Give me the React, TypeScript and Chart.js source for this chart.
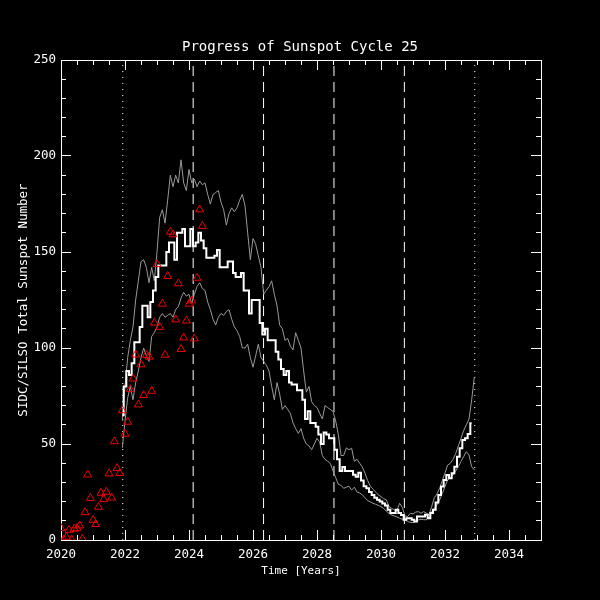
import React, { useEffect, useRef } from "react";
import { Chart, registerables } from "chart.js";

Chart.register(...registerables);

// ---- Data ----
const titleText = "Progress of Sunspot Cycle 25";
const xTitle = "Time [Years]";
const yTitle = "SIDC/SILSO Total Sunspot Number";

const xMin = 2020;
const xMax = 2035;
const yMin = 0;
const yMax = 250;
const xMajorStep = 2;
const xMinorStep = 0.5;
const yMajorStep = 50;
const yMinorStep = 10;

// Observed monthly values, starting Jan 2020
const obsStart = 2020;
const observedSSN = [
  6.2, 0.2, 1.5, 5.2, 0.2, 5.8, 6.1, 7.5, 0.6, 14.4, 34.0, 21.8,
  10.4, 8.2, 17.2, 24.5, 21.2, 25.0, 34.6, 22.0, 51.3, 37.4, 34.8, 67.5,
  55.3, 61.5, 78.5, 84.0, 96.5, 70.5, 91.4, 75.4, 96.3, 95.4, 77.6, 113.1,
  143.6, 110.9, 123.0, 96.4, 137.4, 160.5, 159.1, 114.8, 133.6, 99.4, 105.4, 114.2,
  123.0, 124.7, 104.9, 136.5, 172.1, 163.5,
];

// Predicted values (monthly), starting Dec 2021
const predStart = 2021 + 11 / 12;
const predictedSSN = [
  65,
  80, 88, 86, 92, 103, 103, 111, 122, 122, 116, 124, 130,
  137, 143, 143, 143, 150, 155, 155, 146, 160, 160, 162, 153,
  153, 162, 153, 155, 160, 156, 152, 147, 147, 147, 148, 151,
  142, 142, 142, 145, 145, 139, 137, 137, 139, 130, 130, 118,
  125, 125, 125, 113, 107, 110, 104, 104, 104, 98, 94, 89,
  86, 88, 82, 81, 81, 78, 78, 73, 63, 67, 61, 61,
  59, 55, 50, 56, 55, 53, 53, 47, 42, 36, 38, 36,
  36, 36, 34, 33, 35, 31, 28, 27, 25, 23.5, 22, 21,
  20, 19, 18, 15.7, 14, 14, 15.7, 14, 13, 10.5, 11.3, 11.3,
  10.5, 9.6, 12.2, 12.2, 12.2, 13.1, 11.3, 14, 15.7, 19.5, 23.5, 27.8,
  31.3, 33.9, 32.2, 34.8, 38.2, 43.4, 47.8, 52.1, 53, 55.2, 60.8,
];

const upperBound = [
  62,
  80, 95, 104, 111, 125, 135, 145, 146, 142, 134, 142, 135,
  150, 168, 172, 165, 177, 190, 184, 190, 186, 198, 186, 182,
  193, 186, 188, 184, 187, 185, 186, 180, 175, 180, 181, 182,
  176, 172, 164, 170, 173, 171, 173, 177, 180, 174, 160, 146,
  157, 154, 148, 142, 128, 130, 132, 135, 128, 122, 112, 110,
  104, 105, 101, 99, 108, 104, 100, 88, 77, 80, 72, 70,
  69, 66, 63, 70, 69, 68, 67, 62, 55, 44, 44, 48,
  47, 47.8, 41, 42, 40, 38, 34.8, 31, 28, 26.5, 25, 23.5,
  22.6, 21.5, 20.9, 17.4, 16.5, 15.7, 15.7, 19.1, 17, 12.5, 12.2, 13.9,
  13.6, 14.5, 14.8, 13.9, 14.8, 14, 13.1, 17.4, 22, 24, 27, 31,
  35, 39, 40, 42, 45, 49, 53, 57, 60, 63, 73, 85,
];

const lowerBound = [
  48,
  62, 74, 80, 73, 82, 88, 95, 100, 96, 93, 106, 108,
  111, 116, 118, 116, 117, 118, 116, 120, 121.5, 126, 129, 127,
  128, 123, 128, 132, 134, 131, 130, 124, 120, 115, 112, 116,
  118, 117, 119, 120, 115, 111, 109, 106, 100, 100, 102, 95,
  90, 96, 102, 95, 93, 91, 88, 80, 73, 82, 76, 68,
  70, 68, 66, 61, 58, 55.5, 58, 53, 50, 49, 47, 50,
  53, 51, 44, 42, 41, 39.9, 36, 32.5, 29, 28.5, 26.9, 27.5,
  28, 26, 27.5, 25, 24.5, 23.5, 22, 20.5, 19.8, 19.1, 18.6, 18,
  17.4, 16.5, 15, 13.9, 13, 12.5, 12, 11.3, 10.8, 10.5, 9.6, 9.2,
  9.1, 9.6, 10.4, 10.8, 10.6, 10.5, 12, 14.8, 16.5, 18.3, 20.9, 24.3,
  27.8, 31.3, 32.5, 33.9, 36, 38.2, 41, 43.4, 46, 44.3, 38.2, 36.5,
];

const dottedLineYears = [2021.93, 2032.93];
const dashedLineYears = [2024.13, 2026.33, 2028.53, 2030.73];

// ---- Styling ----
const FONT = "'DejaVu Sans Mono', monospace";
const WHITE = "#ffffff";
const GRAY = "#999999";
const RED = "#f00000";

function monthly(start: number, values: number[]) {
  return values.map((v, i) => ({ x: start + i / 12, y: v }));
}

function vline(x: number, dash: number[]) {
  return {
    label: "v" + x,
    data: [
      { x, y: yMin },
      { x, y: yMax },
    ],
    showLine: true,
    borderColor: WHITE,
    borderWidth: 1,
    borderDash: dash,
    pointRadius: 0,
    order: 10,
  };
}

function axisScale(
  position: string,
  min: number,
  max: number,
  step: number,
  tickLength: number,
  weight: number,
  size: number,
  showLabels: boolean,
  labelPadding: number,
  title?: any
) {
  const horizontal = position === "top" || position === "bottom";
  return {
    type: "linear",
    position,
    min,
    max,
    weight,
    grid: {
      display: true,
      drawOnChartArea: false,
      drawTicks: true,
      tickLength,
      color: WHITE,
      tickColor: WHITE,
      lineWidth: 1,
      tickWidth: 1,
    },
    border: { display: true, color: WHITE, width: 1 },
    ticks: {
      stepSize: step,
      includeBounds: false,
      autoSkip: false,
      display: showLabels,
      maxRotation: 0,
      minRotation: 0,
      padding: labelPadding,
      color: WHITE,
      font: { family: FONT, size: 12.5 },
      callback: (v: any) => String(v),
    },
    title: title || { display: false },
    afterFit: (s: any) => {
      if (horizontal) s.height = size;
      else s.width = size;
    },
  };
}

export default function App() {
  const ref = useRef<HTMLCanvasElement>(null);

  useEffect(() => {
    document.body.style.margin = "0";
    document.body.style.background = "#000";
    if (!ref.current) return;

    const datasets: any[] = [
      {
        label: "Observed",
        data: monthly(obsStart, observedSSN),
        showLine: false,
        pointStyle: "triangle",
        pointRadius: 4.6,
        borderColor: RED,
        backgroundColor: "rgba(0,0,0,0)",
        borderWidth: 1,
        order: 0,
      },
      {
        label: "Predicted",
        data: monthly(predStart, predictedSSN),
        showLine: true,
        stepped: "middle",
        borderColor: WHITE,
        borderWidth: 2,
        pointRadius: 0,
        order: 1,
      },
      {
        label: "Upper",
        data: monthly(predStart, upperBound),
        showLine: true,
        borderColor: GRAY,
        borderWidth: 1,
        pointRadius: 0,
        order: 2,
      },
      {
        label: "Lower",
        data: monthly(predStart, lowerBound),
        showLine: true,
        borderColor: GRAY,
        borderWidth: 1,
        pointRadius: 0,
        order: 3,
      },
      ...dottedLineYears.map((x) => vline(x, [1, 5])),
      ...dashedLineYears.map((x) => vline(x, [10, 6])),
    ];

    const chart = new Chart(ref.current, {
      type: "scatter",
      data: { datasets },
      options: {
        animation: false,
        responsive: false,
        events: [],
        layout: { padding: 0 },
        plugins: {
          legend: { display: false },
          tooltip: { enabled: false },
          title: {
            display: true,
            text: titleText,
            color: WHITE,
            font: { family: FONT, size: 14, weight: "normal" },
            padding: { top: 38.6, bottom: 4.6 },
          },
        },
        scales: {
          x: axisScale("bottom", xMin, xMax, xMajorStep, -10, 0, 60, true, 17, {
            display: true,
            text: xTitle,
            color: WHITE,
            font: { family: FONT, size: 11 },
            padding: { top: 0, bottom: 22.4 },
          }),
          xMinor: axisScale("bottom", xMin, xMax, xMinorStep, -5, -1, 0, false, 0),
          xTop: axisScale("top", xMin, xMax, xMajorStep, -10, -1, 0, false, 0),
          xTopMinor: axisScale("top", xMin, xMax, xMinorStep, -5, -2, 0, false, 0),
          y: axisScale("left", yMin, yMax, yMajorStep, -10, 0, 61, true, 15, {
            display: true,
            text: yTitle,
            color: WHITE,
            font: { family: FONT, size: 12.5 },
            padding: { top: 16.5, bottom: 0 },
          }),
          yMinor: axisScale("left", yMin, yMax, yMinorStep, -5, -1, 0, false, 0),
          yRight: axisScale("right", yMin, yMax, yMajorStep, -10, 0, 59, false, 0),
          yRightMinor: axisScale("right", yMin, yMax, yMinorStep, -5, -1, 0, false, 0),
        } as any,
      },
    } as any);

    return () => chart.destroy();
  }, []);

  return (
    <div style={{ width: 600, height: 600, background: "#000" }}>
      <canvas ref={ref} width={600} height={600} style={{ display: "block" }} />
    </div>
  );
}
